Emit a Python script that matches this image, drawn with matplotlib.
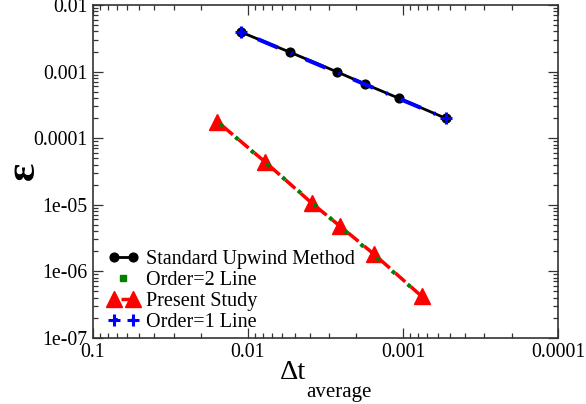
import matplotlib
matplotlib.use("Agg")
import matplotlib.pyplot as plt
from matplotlib.lines import Line2D
from matplotlib.legend_handler import HandlerLine2D
from matplotlib.ticker import FixedLocator, FixedFormatter, LogLocator, NullFormatter

# ---- data ----
upwind_dt = [0.0110, 0.00535, 0.00265, 0.00176, 0.00106, 0.00053]
upwind_err = [0.00389, 0.00195, 0.000983, 0.000649, 0.000395, 0.000198]

present_dt = [0.0157, 0.00776, 0.00385, 0.00255, 0.00154, 0.00076]
present_err = [1.76e-4, 4.4e-5, 1.04e-5, 4.75e-6, 1.8e-6, 4.2e-7]

order1_dt = [0.0110, 0.00053]
order1_err = [0.00389, 0.000198]

order2_dt = [0.0157, 0.00076]
order2_err = [1.76e-4, 4.2e-7]

labels = ["Standard Upwind Method", "Order=2 Line", "Present Study", "Order=1 Line"]

xtick_vals = [0.1, 0.01, 0.001, 0.0001]
xtick_labels = ["0.1", "0.01", "0.001", "0.0001"]
ytick_vals = [1e-7, 1e-6, 1e-5, 1e-4, 1e-3, 1e-2]
ytick_labels = ["1e-07", "1e-06", "1e-05", "0.0001", "0.001", "0.01"]

plt.rcParams["font.family"] = ["Liberation Serif", "DejaVu Serif"]
plt.rcParams["lines.scale_dashes"] = False

W, H = 586, 404
fig = plt.figure(figsize=(W / 100, H / 100), dpi=100)
ax = fig.add_axes([0.1582, 0.1641, 0.9527 - 0.1582, 0.9876 - 0.1641])

PX = 0.72  # points per pixel

black, = ax.plot(upwind_dt, upwind_err, color="black", lw=2.0, marker="o",
                 ms=6.3, mfc="black", mec="black", zorder=3, label=labels[0])
red, = ax.plot(present_dt, present_err, color="#ff0000", lw=2.5,
               ls=(13.6 * PX, (13.1 * PX, 7.5 * PX)),
               marker="^", ms=11.5, mfc="#ff0000", mec="#ff0000", zorder=4,
               label=labels[2], dash_capstyle="butt")
green, = ax.plot(order2_dt, order2_err, color="#008000", lw=2.9,
                 ls=(17.7 * PX, (4.0 * PX, 16.6 * PX)),
                 dash_capstyle="butt", zorder=5, label=labels[1])
blue, = ax.plot(order1_dt, order1_err, color="#0000ff", lw=2.9,
                ls=(34 * PX, (21.7 * PX, 14 * PX, 2 * PX, 14 * PX)),
                marker="+", ms=9, mew=2.2, zorder=6, label=labels[3],
                dash_capstyle="butt")

ax.set_xscale("log")
ax.set_yscale("log")
ax.set_xlim(0.1, 0.0001)
ax.set_ylim(1e-7, 1e-2)

ax.xaxis.set_major_locator(FixedLocator(xtick_vals))
ax.xaxis.set_major_formatter(FixedFormatter(xtick_labels))
ax.yaxis.set_major_locator(FixedLocator(ytick_vals))
ax.yaxis.set_major_formatter(FixedFormatter(ytick_labels))
ax.xaxis.set_minor_locator(LogLocator(base=10, subs=range(2, 10), numticks=20))
ax.yaxis.set_minor_locator(LogLocator(base=10, subs=range(2, 10), numticks=20))
ax.xaxis.set_minor_formatter(NullFormatter())
ax.yaxis.set_minor_formatter(NullFormatter())

ax.tick_params(which="both", direction="in", top=True, right=True,
               color="#333333", width=0.9)
ax.tick_params(which="major", length=7.2, labelsize=14.3, pad=3.6)
ax.tick_params(which="minor", length=3.6)
for sp in ax.spines.values():
    sp.set_color("#333333")
    sp.set_linewidth(1.2)

# x label: "Δt" with a large "average" subscript
fig.text(279.5 / W, 1 - 378.7 / H, "Δt", fontsize=20.5, ha="left", va="baseline")
fig.text(306.5 / W, 1 - 397 / H, "average", fontsize=15, ha="left", va="baseline")
# y label
fig.text(33.5 / W, 1 - 171 / H, "ε", fontsize=31, fontweight="bold", rotation=90,
         rotation_mode="anchor", ha="center", va="baseline")

green_proxy = Line2D([], [], ls="none", marker="s", ms=4, color="#008000")
leg = ax.legend([black, green_proxy, red, blue], labels,
                loc="upper left",
                bbox_to_anchor=((108 - 92.7) / 465.6, 1 - (250 - 5) / 332.7),
                frameon=False, fontsize=14.5, numpoints=2, borderpad=0,
                borderaxespad=0, handlelength=1.52, handletextpad=0.38,
                labelspacing=0.1,
                handler_map={green_proxy: HandlerLine2D(numpoints=1)})

fig.savefig("out.png", dpi=100)
